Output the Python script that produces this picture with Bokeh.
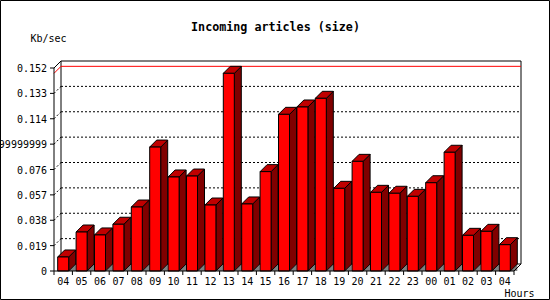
from bokeh.plotting import figure
from bokeh.models import Range1d, Label
from bokeh.core.properties import value
from bokeh.embed import file_html
from bokeh.resources import INLINE

# ---- data ----
hours = ["04", "05", "06", "07", "08", "09", "10", "11", "12", "13", "14", "15", "16",
         "17", "18", "19", "20", "21", "22", "23", "00", "01", "02", "03", "04"]
sizes = [0.0105, 0.0292, 0.0270, 0.0350, 0.0479, 0.0928, 0.0704, 0.0711, 0.0494, 0.1480,
         0.0502, 0.0744, 0.1173, 0.1228, 0.1293, 0.0619, 0.0821, 0.0589, 0.0582, 0.0559,
         0.0661, 0.0889, 0.0267, 0.0297, 0.0197]
y_ticks = [0, 0.019, 0.038, 0.057, 0.076, 0.095, 0.114, 0.133, 0.152]
y_tick_labels = ["0", "0.019", "0.038", "0.057", "0.076", "0.0949999999999",
                 "0.114", "0.133", "0.152"]
title_text = "Incoming articles (size)"
y_title = "Kb/sec"
x_title = "Hours"

# ---- geometry (pixels) ----
W, H = 550, 300
LEFT_PX, BOTTOM_PX = 53.5, 29.5
CAT_PX = 18.4
PLOT_H_PX = 203
DEPTH_PX = 7
YMAX = y_ticks[-1]
ys = PLOT_H_PX / YMAX
px = 1.0 / CAT_PX
py = 1.0 / ys
dx = DEPTH_PX * px
dy = DEPTH_PX * py
n = len(hours)
FONT_NAME = "DejaVu Sans Mono"
FONT = value(FONT_NAME)

p = figure(width=W, height=H, output_backend="svg", toolbar_location=None,
           x_range=Range1d(-LEFT_PX * px, (W - LEFT_PX) * px),
           y_range=Range1d(-BOTTOM_PX * py, (H - BOTTOM_PX) * py),
           x_axis_type=None, y_axis_type=None, min_border=0)
p.outline_line_color = "black"
p.background_fill_color = "white"
p.border_fill_color = "white"

# back wall
p.quad(left=dx, right=n + dx, bottom=dy, top=YMAX + dy,
       fill_color="white", line_color="black", line_width=1)

# grid lines on the back wall and their depth segments
grid = y_ticks[1:-1]
p.segment(x0=[dx] * len(grid), x1=[n + dx] * len(grid),
          y0=[t + dy for t in grid], y1=[t + dy for t in grid],
          line_color="black", line_dash="2 2", line_width=1)
p.segment(x0=[0] * len(grid), x1=[dx] * len(grid),
          y0=grid, y1=[t + dy for t in grid],
          line_color="black", line_dash="2 2", line_width=1)

# max line
vmax = max(sizes)
p.segment(x0=[dx], x1=[n + dx], y0=[vmax + dy], y1=[vmax + dy], line_color="red", line_width=1)
p.segment(x0=[0], x1=[dx], y0=[vmax], y1=[vmax + dy], line_color="red", line_width=1)

# 3D bars
xl = [i + 3.7 * px for i in range(n)]
xr = [x + 11 * px for x in xl]
p.patches(xs=[[a, a + dx, a + dx] for a in xr],
          ys=[[0, 0, dy] for _ in xr],
          fill_color="#808080", line_color=None)
p.patches(xs=[[a, a + dx, a + dx, a] for a in xr],
          ys=[[0, dy, v + dy, v] for v in sizes],
          fill_color="#800000", line_color="black", line_width=1)
p.patches(xs=[[a, a + dx, b + dx, b] for a, b in zip(xl, xr)],
          ys=[[v, v + dy, v + dy, v] for v in sizes],
          fill_color="#C00000", line_color="black", line_width=1)
p.quad(left=xl, right=xr, bottom=0, top=sizes,
       fill_color="#FF0000", line_color="black", line_width=1)

# axes frame
p.segment(x0=[0, 0, 0, n], y0=[0, YMAX, 0, 0],
          x1=[0, dx, n, n + dx], y1=[YMAX, YMAX + dy, 0, dy],
          line_color="black", line_width=1)
# y ticks
p.segment(x0=[-4 * px] * len(y_ticks), x1=[0] * len(y_ticks), y0=y_ticks, y1=y_ticks,
          line_color="black", line_width=1)
p.text(x=[-7 * px] * len(y_ticks), y=y_ticks, text=y_tick_labels,
       text_font=FONT, text_font_size="10px", text_align="right",
       text_baseline="middle", text_color="black")
# x ticks
bounds = list(range(n + 1))
p.segment(x0=bounds, x1=bounds, y0=[0] * len(bounds), y1=[-4 * py] * len(bounds),
          line_color="black", line_width=1)
p.text(x=[i + 0.5 for i in range(n)], y=[-10 * py] * n, text=hours,
       text_font=FONT, text_font_size="10px", text_align="center",
       text_baseline="middle", text_color="black")

# titles
p.add_layout(Label(x=275, y=H - 26.5, x_units="screen", y_units="screen", text=title_text,
                   text_font=FONT_NAME, text_font_size="11.7px", text_font_style="bold",
                   text_align="center", text_baseline="middle", text_color="black"))
p.add_layout(Label(x=30, y=H - 37.5, x_units="screen", y_units="screen", text=y_title,
                   text_font=FONT_NAME, text_font_size="10px",
                   text_align="left", text_baseline="middle", text_color="black"))
p.add_layout(Label(x=504, y=H - 292.5, x_units="screen", y_units="screen", text=x_title,
                   text_font=FONT_NAME, text_font_size="10px",
                   text_align="left", text_baseline="middle", text_color="black"))

open("out.html", "w").write(file_html(p, INLINE))
